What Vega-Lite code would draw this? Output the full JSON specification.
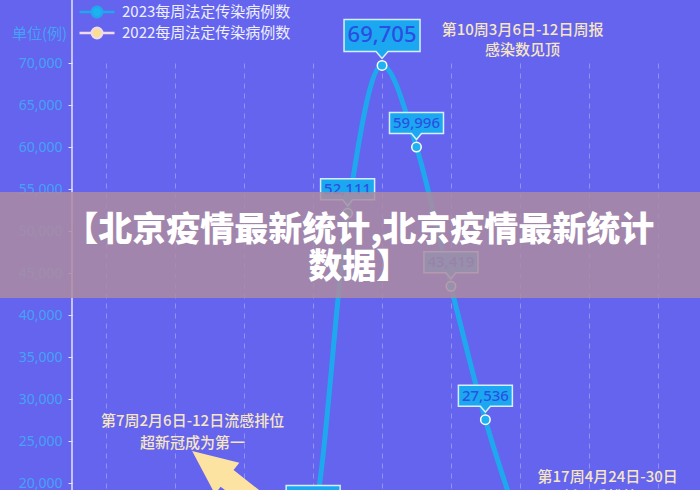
{
  "$schema": "https://vega.github.io/schema/vega-lite/v6.json",
  "width": 628,
  "height": 427,
  "autosize": "none",
  "padding": {"left": 72, "top": 63, "right": 0, "bottom": 0},
  "background": "#6464ee",
  "config": {"view": {"stroke": null}, "font": "Noto Sans CJK SC"},
  "data": {
    "values": [
      {"series": "2023每周法定传染病例数", "week": 7, "cases": 9000},
      {"series": "2023每周法定传染病例数", "week": 8, "cases": 15607},
      {"series": "2023每周法定传染病例数", "week": 9, "cases": 52111},
      {"series": "2023每周法定传染病例数", "week": 10, "cases": 69705},
      {"series": "2023每周法定传染病例数", "week": 11, "cases": 59996},
      {"series": "2023每周法定传染病例数", "week": 12, "cases": 43419},
      {"series": "2023每周法定传染病例数", "week": 13, "cases": 27536},
      {"series": "2023每周法定传染病例数", "week": 14, "cases": 14800}
    ]
  },
  "layer": [
    {
      "mark": {"type": "line", "interpolate": "monotone", "strokeWidth": 5, "strokeCap": "round"},
      "encoding": {
        "x": {
          "field": "week", "type": "quantitative",
          "scale": {"domain": [1, 19.23], "nice": false, "zero": false},
          "axis": {"values": [2,3,4,5,6,7,8,9,10,11,12,13,14,15,16,17,18], "grid": true, "gridDash": [5, 5], "gridColor": "#ffffff", "gridOpacity": 0.3, "labels": false, "ticks": false, "domain": false, "title": null, "zindex": 0}
        },
        "y": {
          "field": "cases", "type": "quantitative",
          "scale": {"domain": [19167, 70000], "nice": false, "zero": false},
          "axis": {"values": [20000,25000,30000,35000,40000,45000,50000,55000,60000,65000,70000], "labelExpr": "format(datum.value, ',')", "labelColor": "#46a2f6", "labelFontSize": 14, "labelFont": "Noto Sans", "labelPadding": 6, "tickColor": "#e8e4ff", "tickSize": 4, "domain": false, "grid": false, "title": "单位(例)", "titleAngle": 0, "titleX": -33, "titleY": -30, "titleAlign": "center", "titleBaseline": "middle", "titleColor": "#46a2f6", "titleFontSize": 15, "titleFontWeight": "normal", "titleFont": "Noto Sans CJK SC", "zindex": 0}
        },
        "color": {
          "field": "series", "type": "nominal",
          "scale": {"domain": ["2023每周法定传染病例数", "2022每周法定传染病例数"], "range": ["#1fa8ee", "#f2d9e6"]},
          "legend": {"orient": "none", "legendX": 6, "legendY": -58.5, "title": null, "symbolType": "M-1,0H-0.32M0.32,0H1M0.3,0A0.3,0.3,0,1,1,-0.3,0A0.3,0.3,0,1,1,0.3,0", "symbolSize": 1225, "symbolStrokeWidth": 2.5, "labelFontSize": 15, "labelColor": "#eef0ff", "labelFont": "Noto Sans CJK SC", "labelOffset": 6, "clipHeight": 15, "rowPadding": 5, "padding": 0, "labelLimit": 400,
            "encode": {"symbols": {"update": {"fill": {"scale": "fill", "field": "value"}, "fillOpacity": {"value": 1}, "opacity": {"value": 1}}}}}
        }
      }
    },
    {
      "data": {"values": [{}]},
      "mark": {"type": "rule", "color": "#e6e2ff", "strokeWidth": 1.5},
      "encoding": {
        "x": {"datum": 1, "type": "quantitative"},
        "y": {"datum": 19000, "type": "quantitative"},
        "y2": {"datum": 78000}
      }
    },
    {
      "mark": {"type": "point", "shape": "circle", "size": 90, "filled": true, "stroke": "white", "strokeWidth": 1.5, "opacity": 1},
      "encoding": {
        "x": {"field": "week", "type": "quantitative"},
        "y": {"field": "cases", "type": "quantitative"},
        "fill": {
          "field": "series", "type": "nominal",
          "scale": {"domain": ["2023每周法定传染病例数", "2022每周法定传染病例数"], "range": ["#1fb2f0", "#f8e08c"]},
          "legend": null
        }
      }
    },
    {
      "transform": [{"filter": "datum.week >= 8 && datum.week <= 13 && datum.week != 10"}],
      "mark": {"type": "point", "shape": "M-1,-0.389H1V0.389H0.185L0,0.611L-0.185,0.389H-1Z", "size": 2916, "filled": true, "fill": "#1ca8f0", "stroke": "#d8eeff", "strokeWidth": 1.5, "opacity": 1, "yOffset": -24},
      "encoding": {
        "x": {"field": "week", "type": "quantitative"},
        "y": {"field": "cases", "type": "quantitative"}
      }
    },
    {
      "transform": [{"filter": "datum.week >= 8 && datum.week <= 13 && datum.week != 10"}],
      "mark": {"type": "text", "fontSize": 15, "font": "Noto Sans", "fontWeight": 500, "color": "#2c50e4", "yOffset": -24, "baseline": "middle", "align": "center"},
      "encoding": {
        "x": {"field": "week", "type": "quantitative"},
        "y": {"field": "cases", "type": "quantitative"},
        "text": {"field": "cases", "type": "quantitative", "format": ","}
      }
    },
    {
      "transform": [{"filter": "datum.week == 10"}],
      "mark": {"type": "point", "shape": "M-1,-0.421H1V0.421H0.158L0,0.605L-0.158,0.421H-1Z", "size": 5776, "filled": true, "fill": "#1ca8f0", "stroke": "#d8eeff", "strokeWidth": 1.5, "opacity": 1, "yOffset": -30},
      "encoding": {
        "x": {"field": "week", "type": "quantitative"},
        "y": {"field": "cases", "type": "quantitative"}
      }
    },
    {
      "transform": [{"filter": "datum.week == 10"}],
      "mark": {"type": "text", "fontSize": 22, "font": "Noto Sans", "fontWeight": 500, "color": "#2c4ee2", "yOffset": -30, "baseline": "middle", "align": "center"},
      "encoding": {
        "x": {"field": "week", "type": "quantitative"},
        "y": {"field": "cases", "type": "quantitative"},
        "text": {"field": "cases", "type": "quantitative", "format": ","}
      }
    },
    {
      "data": {"values": [{}]},
      "mark": {"type": "text", "text": ["第10周3月6日-12日周报", "感染数见顶"], "lineHeight": 20, "fontSize": 15, "fontWeight": 500, "color": "#f6e6c4", "align": "center", "baseline": "middle"},
      "encoding": {
        "x": {"datum": 14.08, "type": "quantitative"},
        "y": {"datum": 73929, "type": "quantitative"}
      }
    },
    {
      "data": {"values": [{}]},
      "mark": {"type": "text", "text": ["第7周2月6日-12日流感排位", "超新冠成为第一"], "lineHeight": 22, "fontSize": 15, "fontWeight": 500, "color": "#f6e6c4", "align": "center", "baseline": "middle"},
      "encoding": {
        "x": {"datum": 4.5, "type": "quantitative"},
        "y": {"datum": 27381, "type": "quantitative"}
      }
    },
    {
      "data": {"values": [{}]},
      "mark": {"type": "text", "text": ["第17周4月24日-30日", "新冠重排第一"], "lineHeight": 20, "fontSize": 15, "fontWeight": 500, "color": "#f6e6c4", "align": "center", "baseline": "middle"},
      "encoding": {
        "x": {"datum": 16.55, "type": "quantitative"},
        "y": {"datum": 20714, "type": "quantitative"}
      }
    },
    {
      "data": {"values": [{}]},
      "mark": {"type": "point", "shape": "M0,-1L0.33,-0.26L0.175,-0.26L0.175,1L-0.175,1L-0.175,-0.26L-0.33,-0.26Z", "size": 14400, "angle": 308, "filled": true, "fill": "#fde3a1", "strokeWidth": 0, "opacity": 1},
      "encoding": {
        "x": {"datum": 5.86, "type": "quantitative"},
        "y": {"datum": 19405, "type": "quantitative"}
      }
    },
    {
      "data": {"values": [{}]},
      "mark": {"type": "rect", "color": "#ad8ba0", "opacity": 0.85},
      "encoding": {
        "x": {"datum": -1.2, "type": "quantitative"},
        "x2": {"datum": 19.3},
        "y": {"datum": 54643, "type": "quantitative"},
        "y2": {"datum": 42024}
      }
    },
    {
      "data": {"values": [{}]},
      "mark": {"type": "text", "text": ["【北京疫情最新统计,北京疫情最新统计", "数据】"], "lineHeight": 37, "fontSize": 34, "fontWeight": 900, "font": "Noto Sans CJK SC", "color": "#ffffff", "align": "center", "baseline": "middle"},
      "encoding": {
        "x": {"datum": 9.34, "type": "quantitative"},
        "y": {"datum": 50000, "type": "quantitative"}
      }
    }
  ]
}
